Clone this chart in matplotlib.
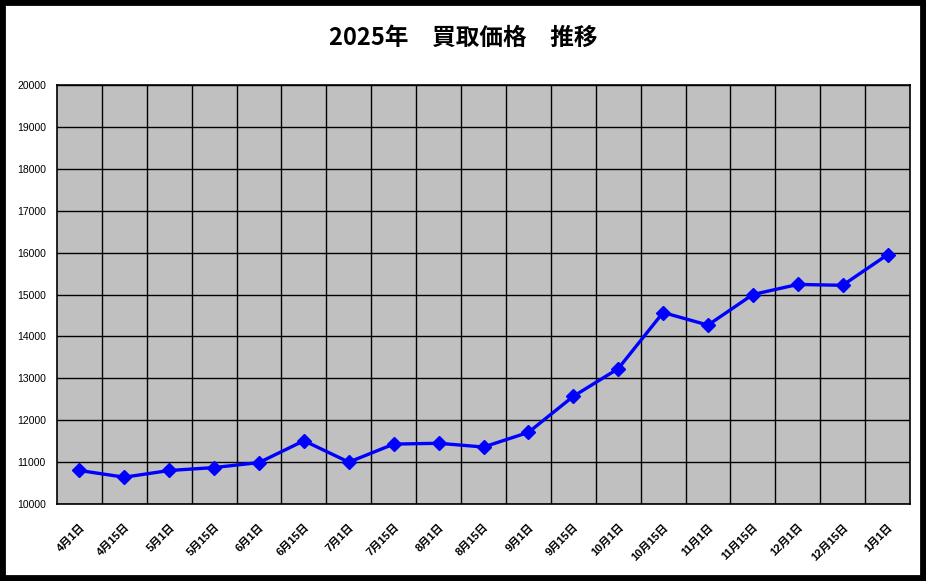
import matplotlib.pyplot as plt
from matplotlib.patches import Rectangle
from matplotlib.transforms import ScaledTranslation

plt.rcParams['font.family'] = ['Liberation Sans', 'Noto Sans CJK JP', 'DejaVu Sans']

# 日付ラベルと買取価格
dates = ['4月1日', '4月15日', '5月1日', '5月15日', '6月1日', '6月15日', '7月1日', '7月15日',
         '8月1日', '8月15日', '9月1日', '9月15日', '10月1日', '10月15日', '11月1日', '11月15日',
         '12月1日', '12月15日', '1月1日']
prices = [10800, 10640, 10800, 10870, 10990, 11510, 11000, 11430,
          11450, 11360, 11710, 12570, 13230, 14570, 14270, 15000,
          15240, 15220, 15950]
yticks = list(range(10000, 20001, 1000))

fig = plt.figure(figsize=(9.26, 5.81), dpi=100)
ax = fig.add_axes([0.0616, 0.1325, 0.9211, 0.7212])
ax.set_facecolor('#C0C0C0')

x = list(range(len(dates)))
ax.plot(x, prices, color='#0000FF', linewidth=2.4, marker='D', markersize=7,
        markerfacecolor='#0000FF', markeredgecolor='#0000FF', zorder=3)

ax.set_xlim(-0.5, len(dates) - 0.5)
ax.set_ylim(10000, 20000)
ax.set_yticks(yticks)
ax.set_yticklabels([str(v) for v in yticks], fontsize=7.5)
ax.set_xticks(x)
ax.set_xticklabels(dates, fontsize=8, fontweight='bold', rotation=45,
                   ha='right', rotation_mode='anchor')
# ラベルを少し左へずらす
shift = ScaledTranslation(-7 / 100, 0, fig.dpi_scale_trans)
for lbl in ax.get_xticklabels():
    lbl.set_transform(lbl.get_transform() + shift)

# 縦のグリッドは区間の境目
for b in range(1, len(dates)):
    ax.axvline(b - 0.5, color='black', linewidth=1.0, zorder=1)
ax.grid(axis='y', color='black', linewidth=1.0, zorder=1)
ax.set_axisbelow(True)
ax.tick_params(length=0, pad=8)
ax.tick_params(axis='x', pad=13)
for s in ax.spines.values():
    s.set_color('black')
    s.set_linewidth(1.2)

fig.text(0.5, 0.934, '2025年　買取価格　推移', ha='center', va='center',
         fontsize=17, fontweight='bold', family=['Noto Sans CJK JP', 'DejaVu Sans'])

# 外枠
fig.patches.append(Rectangle((0, 0), 1, 1, transform=fig.transFigure, fill=False,
                             edgecolor='black', linewidth=8.5))

fig.savefig('out.png', dpi=100)
